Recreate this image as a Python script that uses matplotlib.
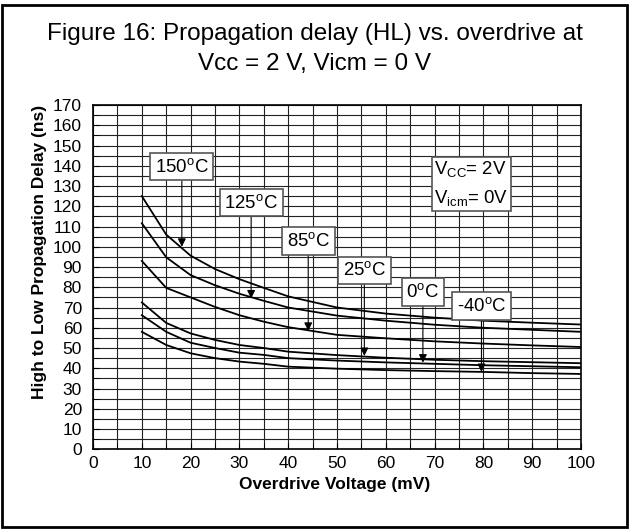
import matplotlib
matplotlib.use('Agg')
import matplotlib.pyplot as plt
from matplotlib.patches import Rectangle

plt.rcParams['font.family'] = ['Liberation Sans', 'DejaVu Sans']
plt.rcParams['mathtext.fontset'] = 'custom'
plt.rcParams['mathtext.rm'] = 'Liberation Sans'
plt.rcParams['mathtext.it'] = 'Liberation Sans:italic'
plt.rcParams['mathtext.bf'] = 'Liberation Sans:bold'

# overdrive (mV) and high-to-low delay (ns)
overdrive = [10, 15, 20, 25, 30, 35, 40, 50, 60, 70, 80, 90, 100]
delay_150 = [125, 106, 95.6, 89, 84, 79.7, 75.5, 70, 67, 65, 63.5, 62.5, 61.6]
delay_125 = [111.6, 94.8, 86, 81, 76.8, 73.3, 70, 66, 63.5, 61.5, 60, 59, 58]
delay_85 = [93, 79.7, 75, 70.3, 66.2, 63, 60.3, 56.5, 54.8, 53.3, 52.2, 51.3, 50.5]
delay_25 = [72.5, 62.4, 57.2, 54, 51.5, 50, 48.2, 46.5, 45.2, 44.2, 43.5, 43, 42.5]
delay_0 = [66.2, 58, 52.6, 50, 47.7, 46.6, 45, 43.8, 42.9, 42.2, 41.5, 41, 40.5]
delay_m40 = [58, 51.5, 47.4, 45, 43.3, 42.2, 40.8, 39.8, 39.1, 38.6, 38.2, 37.6, 37.2]

curves = [delay_150, delay_125, delay_85, delay_25, delay_0, delay_m40]
temp_labels = ['150', '125', '85', '25', '0', '-40']

fig = plt.figure(figsize=(6.29, 5.29), dpi=100)
ax = fig.add_axes([0.1479, 0.1507, 0.7758, 0.6508])

for ys in curves:
    ax.plot(overdrive, ys, color='black', lw=1.3)

ax.set_xlim(0, 100)
ax.set_ylim(0, 170)
ax.set_xticks(range(0, 101, 10))
ax.set_xticks(range(0, 101, 5), minor=True)
ax.set_yticks(range(0, 171, 10))
ax.set_yticks(range(0, 171, 5), minor=True)
ax.grid(which='both', color='#222222', lw=0.8)
ax.set_axisbelow(True)
ax.tick_params(which='both', direction='in', length=4, labelsize=12.5)
ax.tick_params(axis='x', pad=5)
ax.tick_params(axis='y', pad=8)
for s in ax.spines.values():
    s.set_linewidth(1.2)

# label boxes with arrows pointing to each curve: (x, box y, arrow tip y)
spots = [(18.2, 139.6, 100), (32.4, 121.7, 74.5), (44.1, 102.8, 58.5),
         (55.6, 88.4, 46.1), (67.6, 77.7, 42.8), (79.6, 70.8, 38.2)]
for t, (x, ty, ay) in zip(temp_labels, spots):
    ax.annotate(t + r'$^{\mathrm{o}}$C', xy=(x, ay), xytext=(x, ty),
                ha='center', va='center', fontsize=13.4,
                bbox=dict(boxstyle='square,pad=0.25', fc='white', ec='#555555', lw=1.2),
                arrowprops=dict(arrowstyle='-|>', color='black', lw=0.8,
                                mutation_scale=12, shrinkA=0, shrinkB=0))

ax.text(77.5, 131, 'V$_{\\mathrm{CC}}$= 2V\nV$_{\\mathrm{icm}}$= 0V',
        ha='center', va='center', multialignment='left', fontsize=13.4,
        linespacing=1.6,
        bbox=dict(boxstyle='square,pad=0.12', fc='white', ec='#555555', lw=1.2))

fig.text(335 / 629, 1 - 485 / 529, 'Overdrive Voltage (mV)', ha='center', va='center',
         fontsize=12.5, fontweight='bold')
fig.text(40 / 629, 1 - 252 / 529, 'High to Low Propagation Delay (ns)', rotation=90,
         ha='center', va='center', fontsize=12.5, fontweight='bold')

fig.text(0.5, 1 - 40 / 529, 'Figure 16: Propagation delay (HL) vs. overdrive at',
         ha='center', va='baseline', fontsize=17.5)
fig.text(0.5, 1 - 70 / 529, 'Vcc = 2 V, Vicm = 0 V',
         ha='center', va='baseline', fontsize=17.5)

fig.add_artist(Rectangle((0.003, 0.004), 0.994, 0.9865, transform=fig.transFigure,
                         fill=False, lw=2, ec='black'))

fig.savefig('out.png', dpi=100)
